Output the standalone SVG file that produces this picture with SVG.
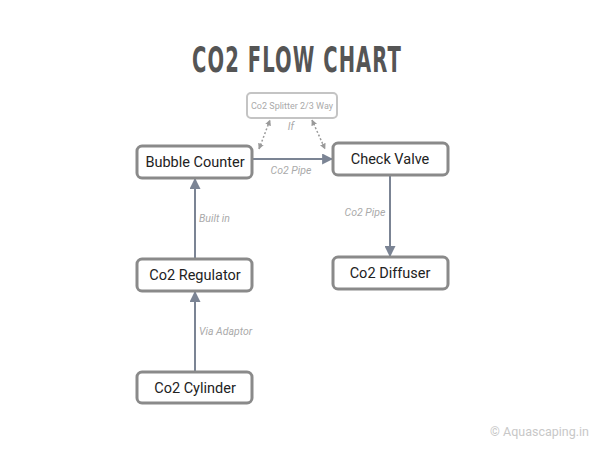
<svg xmlns="http://www.w3.org/2000/svg" width="600" height="450" viewBox="0 0 600 450">
<style>
.node rect{fill:#fff;stroke:#8a8a8a;stroke-width:3}
.node text{font-family:Roboto,"Liberation Sans",sans-serif;font-size:14.5px;fill:#222;text-anchor:middle}
.lbl{font-family:Roboto,"Liberation Sans",sans-serif;font-size:10.5px;font-style:italic;fill:#aaa}
.edge{stroke:#7b8494;stroke-width:2;fill:none}
.dot{stroke:#9a9a9a;stroke-width:1.5;stroke-dasharray:2 2;fill:none}
</style>
<defs>
<marker id="ah" viewBox="0 0 10 10" refX="9" refY="5" markerWidth="5.5" markerHeight="5.5" orient="auto" markerUnits="strokeWidth"><path d="M0,0 L10,5 L0,10 z" fill="#7b8494"/></marker>
<marker id="dh" viewBox="0 0 10 10" refX="9" refY="5" markerWidth="4" markerHeight="4" orient="auto-start-reverse" markerUnits="strokeWidth"><path d="M0,0 L10,5 L0,10 z" fill="#9a9a9a"/></marker>
</defs>
<rect width="600" height="450" fill="#fff"/>
<text x="297" y="72" text-anchor="middle" font-family="'DejaVu Sans','Liberation Sans',sans-serif" font-weight="bold" font-size="36" letter-spacing="2" textLength="210" lengthAdjust="spacingAndGlyphs" fill="#555">CO2 FLOW CHART</text>
<g id="connectors">
<line class="edge" x1="252" y1="159" x2="332" y2="159" marker-end="url(#ah)"/>
<line class="edge" x1="390" y1="175" x2="390" y2="256" marker-end="url(#ah)"/>
<line class="edge" x1="195" y1="259" x2="195" y2="179" marker-end="url(#ah)"/>
<line class="edge" x1="195" y1="372" x2="195" y2="292" marker-end="url(#ah)"/>
<line class="dot" x1="259" y1="149" x2="270" y2="120" marker-start="url(#dh)" marker-end="url(#dh)"/>
<line class="dot" x1="312" y1="120" x2="325" y2="149" marker-start="url(#dh)" marker-end="url(#dh)"/>
<text class="lbl" x="291" y="174" text-anchor="middle">Co2 Pipe</text>
<text class="lbl" x="365" y="216" text-anchor="middle">Co2 Pipe</text>
<text class="lbl" x="199" y="222">Built in</text>
<text class="lbl" x="199" y="335">Via Adaptor</text>
<text class="lbl" x="291" y="130" text-anchor="middle" font-style="normal" font-size="8">If</text>
</g>
<g id="splitter">
<rect x="247" y="93" width="90" height="25" rx="4" fill="#fff" stroke="#c4c4c4" stroke-width="2"/>
<text x="292" y="109" text-anchor="middle" font-family="Roboto,'Liberation Sans',sans-serif" font-size="9" fill="#aaa">Co2 Splitter 2/3 Way</text>
</g>
<g id="bubble" class="node"><rect x="137" y="146" width="115" height="32" rx="5"/><text x="195" y="167">Bubble Counter</text></g>
<g id="check" class="node"><rect x="333" y="143" width="115" height="32" rx="5"/><text x="390" y="164">Check Valve</text></g>
<g id="regulator" class="node"><rect x="137" y="259" width="115" height="32" rx="5"/><text x="195" y="280">Co2 Regulator</text></g>
<g id="diffuser" class="node"><rect x="333" y="257" width="115" height="32" rx="5"/><text x="390" y="278">Co2 Diffuser</text></g>
<g id="cylinder" class="node"><rect x="137" y="372" width="115" height="31" rx="5"/><text x="195" y="393">Co2 Cylinder</text></g>
<text x="589" y="436" text-anchor="end" font-family="Roboto,'Liberation Sans',sans-serif" font-size="12.5" fill="#c8c8c8">© Aquascaping.in</text>
</svg>
